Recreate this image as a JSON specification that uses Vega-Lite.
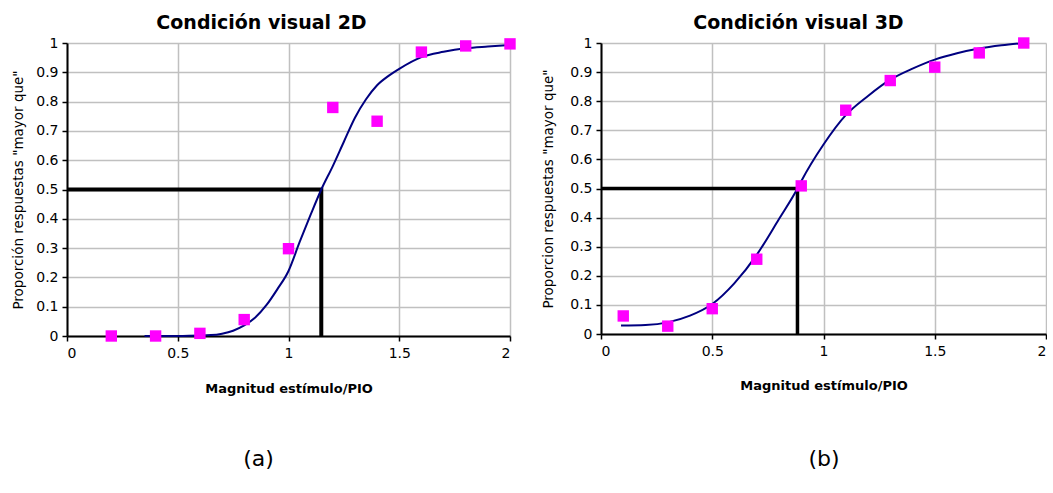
{
  "$schema": "https://vega.github.io/schema/vega-lite/v6.json",
  "background": "white",
  "padding": {"left": 11, "top": 14, "right": 0, "bottom": 2},
  "spacing": 25,
  "datasets": {
    "pts2d": [
      {"x": 0.2, "y": 0.0}, {"x": 0.4, "y": 0.0}, {"x": 0.6, "y": 0.009}, {"x": 0.8, "y": 0.056},
      {"x": 1.0, "y": 0.298}, {"x": 1.2, "y": 0.78}, {"x": 1.4, "y": 0.733}, {"x": 1.6, "y": 0.969},
      {"x": 1.8, "y": 0.99}, {"x": 2.0, "y": 0.997}
    ],
    "fit2d": [
      {"x": 0.35, "y": 0.0}, {"x": 0.45, "y": 0.0}, {"x": 0.55, "y": 0.0005}, {"x": 0.65, "y": 0.003},
      {"x": 0.7, "y": 0.008}, {"x": 0.75, "y": 0.018}, {"x": 0.8, "y": 0.036}, {"x": 0.85, "y": 0.063},
      {"x": 0.9, "y": 0.105}, {"x": 0.95, "y": 0.16}, {"x": 1.0, "y": 0.222}, {"x": 1.05, "y": 0.32},
      {"x": 1.1, "y": 0.414}, {"x": 1.148, "y": 0.5}, {"x": 1.2, "y": 0.58}, {"x": 1.25, "y": 0.663},
      {"x": 1.3, "y": 0.745}, {"x": 1.35, "y": 0.808}, {"x": 1.4, "y": 0.856}, {"x": 1.45, "y": 0.887},
      {"x": 1.5, "y": 0.912}, {"x": 1.6, "y": 0.952}, {"x": 1.7, "y": 0.97}, {"x": 1.8, "y": 0.982},
      {"x": 1.9, "y": 0.988}, {"x": 2.0, "y": 0.993}
    ],
    "umbral2d": [
      {"x": 0, "y": 0.5, "o": 1}, {"x": 1.148, "y": 0.5, "o": 2}, {"x": 1.148, "y": 0, "o": 3}
    ],
    "pts3d": [
      {"x": 0.1, "y": 0.062}, {"x": 0.3, "y": 0.027}, {"x": 0.5, "y": 0.087}, {"x": 0.7, "y": 0.257},
      {"x": 0.9, "y": 0.509}, {"x": 1.1, "y": 0.769}, {"x": 1.3, "y": 0.871}, {"x": 1.5, "y": 0.917},
      {"x": 1.7, "y": 0.966}, {"x": 1.9, "y": 1.0}
    ],
    "fit3d": [
      {"x": 0.09, "y": 0.029}, {"x": 0.2, "y": 0.031}, {"x": 0.3, "y": 0.04}, {"x": 0.4, "y": 0.063},
      {"x": 0.5, "y": 0.103}, {"x": 0.6, "y": 0.175}, {"x": 0.7, "y": 0.272}, {"x": 0.8, "y": 0.395},
      {"x": 0.883, "y": 0.5}, {"x": 0.9, "y": 0.525}, {"x": 1.0, "y": 0.651}, {"x": 1.1, "y": 0.752},
      {"x": 1.2, "y": 0.818}, {"x": 1.3, "y": 0.874}, {"x": 1.4, "y": 0.912}, {"x": 1.5, "y": 0.943},
      {"x": 1.6, "y": 0.965}, {"x": 1.7, "y": 0.981}, {"x": 1.8, "y": 0.992}, {"x": 1.9, "y": 1.0}
    ],
    "umbral3d": [
      {"x": 0, "y": 0.5, "o": 1}, {"x": 0.883, "y": 0.5, "o": 2}, {"x": 0.883, "y": 0, "o": 3}
    ]
  },
  "hconcat": [
    {
      "title": {"text": "Condición visual 2D", "dx": -27},
      "width": 443,
      "height": 293,
      "resolve": {"axis": {"x": "independent"}},
      "encoding": {
        "y": {"field": "y", "type": "quantitative", "scale": {"domain": [0, 1], "nice": false},
              "axis": {"title": "Proporción respuestas \"mayor que\"", "values": [0, 0.1, 0.2, 0.3, 0.4, 0.5, 0.6, 0.7, 0.8, 0.9, 1], "format": "~g"}}
      },
      "layer": [
        {"data": {"name": "umbral2d"}, "mark": {"type": "line", "color": "black", "strokeWidth": 4, "strokeJoin": "miter"},
         "encoding": {
           "x": {"field": "x", "type": "quantitative", "scale": {"domain": [0, 2], "nice": false},
                 "axis": {"title": "Magnitud estímulo/PIO", "values": [0, 0.5, 1, 1.5, 2], "format": "~g", "titlePadding": 22}},
           "order": {"field": "o", "type": "quantitative"}}},
        {"data": {"name": "fit2d"}, "mark": {"type": "line", "color": "#000080", "strokeWidth": 2, "interpolate": "monotone"},
         "encoding": {"x": {"field": "x", "type": "quantitative", "axis": null}}},
        {"data": {"name": "pts2d"}, "mark": {"type": "point", "shape": "square", "filled": true, "color": "#ff00ff", "opacity": 1, "size": 130},
         "encoding": {"x": {"field": "x", "type": "quantitative",
                            "axis": {"orient": "bottom", "title": "(a)", "titleFontSize": 22, "titleFontWeight": "normal", "titlePadding": 112, "titleX": 191,
                                     "labels": false, "ticks": false, "domain": false, "grid": false}}}}
      ]
    },
    {
      "title": {"text": "Condición visual 3D", "dx": -25},
      "width": 445,
      "height": 291,
      "resolve": {"axis": {"x": "independent"}},
      "encoding": {
        "y": {"field": "y", "type": "quantitative", "scale": {"domain": [0, 1], "nice": false},
              "axis": {"title": "Proporcion respuestas \"mayor que\"", "values": [0, 0.1, 0.2, 0.3, 0.4, 0.5, 0.6, 0.7, 0.8, 0.9, 1], "format": "~g", "titlePadding": 14}}
      },
      "layer": [
        {"data": {"name": "umbral3d"}, "mark": {"type": "line", "color": "black", "strokeWidth": 3.5, "strokeJoin": "miter"},
         "encoding": {
           "x": {"field": "x", "type": "quantitative", "scale": {"domain": [0, 2], "nice": false},
                 "axis": {"title": "Magnitud estímulo/PIO", "values": [0, 0.5, 1, 1.5, 2], "format": "~g", "titlePadding": 21}},
           "order": {"field": "o", "type": "quantitative"}}},
        {"data": {"name": "fit3d"}, "mark": {"type": "line", "color": "#000080", "strokeWidth": 2, "interpolate": "monotone"},
         "encoding": {"x": {"field": "x", "type": "quantitative", "axis": null}}},
        {"data": {"name": "pts3d"}, "mark": {"type": "point", "shape": "square", "filled": true, "color": "#ff00ff", "opacity": 1, "size": 130},
         "encoding": {"x": {"field": "x", "type": "quantitative",
                            "axis": {"orient": "bottom", "title": "(b)", "titleFontSize": 22, "titleFontWeight": "normal", "titlePadding": 114,
                                     "labels": false, "ticks": false, "domain": false, "grid": false}}}}
      ]
    }
  ],
  "config": {
    "font": "DejaVu Sans",
    "view": {"stroke": null},
    "title": {"color": "black", "fontSize": 19, "fontWeight": "bold", "anchor": "middle", "frame": "group", "offset": 3},
    "axis": {
      "gridColor": "#c0c0c0", "gridWidth": 1.5, "gridOpacity": 1,
      "domainColor": "black", "domainWidth": 2,
      "tickColor": "black", "tickWidth": 1.5, "tickSize": 5,
      "labelColor": "black", "labelFontSize": 14, "labelFont": "DejaVu Sans",
      "titleColor": "black", "titleFont": "DejaVu Sans"
    },
    "axisX": {"titleFontWeight": "bold", "titleFontSize": 13, "labelPadding": 5},
    "axisY": {"titleFontWeight": "normal", "titleFontSize": 13.5, "titlePadding": 10, "labelPadding": 4}
  }
}
